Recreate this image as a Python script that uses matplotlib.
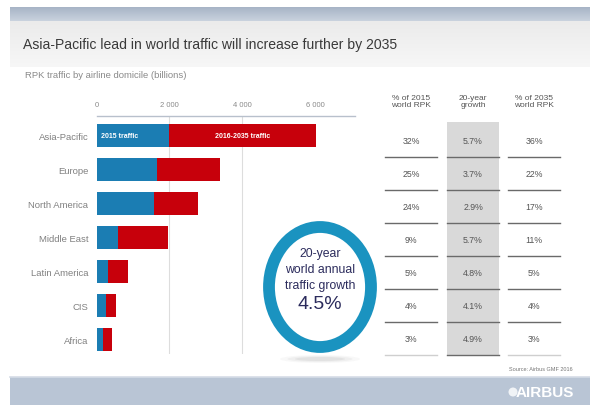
import matplotlib
matplotlib.use("Agg")
import matplotlib.pyplot as plt
import numpy as np
from matplotlib.patches import Rectangle, Ellipse
from matplotlib.colors import LinearSegmentedColormap

plt.rcParams['font.family'] = ['Liberation Sans Narrow', 'Liberation Sans', 'DejaVu Sans']

# ---- data ----
regions = ["Asia-Pacific", "Europe", "North America", "Middle East",
           "Latin America", "CIS", "Africa"]
traffic_2015 = [2000, 1660, 1580, 590, 310, 260, 170]
traffic_2016_2035 = [4040, 1730, 1210, 1370, 550, 270, 250]
ticks = [0, 2000, 4000, 6000]
tick_labels = ["0", "2 000", "4 000", "6 000"]
share_2015 = ["32%", "25%", "24%", "9%", "5%", "4%", "3%"]
growth_20y = ["5.7%", "3.7%", "2.9%", "5.7%", "4.8%", "4.1%", "4.9%"]
share_2035 = ["36%", "22%", "17%", "11%", "5%", "4%", "3%"]
col_headers = ["% of 2015\nworld RPK", "20-year\ngrowth", "% of 2035\nworld RPK"]

BLUE = "#1b7db3"
RED = "#c7000b"
RING = "#1a93c0"

W, H = 590, 406
fig = plt.figure(figsize=(W / 100, H / 100), dpi=100)

# background axes in pixel coordinates
bg = fig.add_axes([0, 0, 1, 1], zorder=0)
bg.set_xlim(0, W)
bg.set_ylim(H, 0)
bg.axis("off")

grad = np.linspace(0, 1, 50).reshape(-1, 1)
cm_top = LinearSegmentedColormap.from_list("t", ["#a7b4c6", "#c9d2de"])
bg.imshow(grad, cmap=cm_top, extent=(10, W, 22, 8), aspect="auto", zorder=0)
cm_title = LinearSegmentedColormap.from_list("g", ["#ebebeb", "#f7f7f7"])
bg.imshow(grad, cmap=cm_title, extent=(10, W, 68, 22), aspect="auto", zorder=0)
bg.add_patch(Rectangle((10, 378), W - 10, H - 378, color="#b9c5d5", lw=0, zorder=0))
bg.plot([10, W], [378, 378], color="#d5dce6", lw=1.2, zorder=1)

bg.text(23, 45, "Asia-Pacific lead in world traffic will increase further by 2035",
        fontsize=10.1, color="#3a3a3a", va="center", ha="left")
bg.text(25, 76, "RPK traffic by airline domicile (billions)",
        fontsize=6.8, color="#8a8a8a", va="center", ha="left")

# table
col_x = [411, 473, 534]
bg.add_patch(Rectangle((447, 123), 52, 233, color="#d9d9d9", lw=0, zorder=1))
row_y = [142, 175, 208, 241, 274, 307, 340]
sep_y = [158, 191, 224, 257, 290, 323, 356]
spans = [(385, 437), (447, 499), (508, 560)]
for j, hdr in enumerate(col_headers):
    bg.text(col_x[j], 102, hdr, fontsize=6, color="#555555", ha="center",
            va="center", linespacing=1.05, zorder=3)
for i in range(len(regions)):
    for j, vals in enumerate([share_2015, growth_20y, share_2035]):
        bg.text(col_x[j], row_y[i], vals[i], fontsize=6.3, color="#555555",
                ha="center", va="center", zorder=3)
    last = i == len(regions) - 1
    for j, (a, b) in enumerate(spans):
        c = "#cfcfcf" if (last and j != 1) else "#6a6a6a"
        bg.plot([a, b], [sep_y[i], sep_y[i]], color=c, lw=1.0, zorder=2)

bg.text(573, 370, "Source: Airbus GMF 2016", fontsize=4, color="#777777",
        ha="right", va="center")
bg.text(574, 393, "AIRBUS", fontsize=11, color="white", ha="right", va="center",
        fontweight="bold")
bg.add_patch(Ellipse((513, 393), 9, 9, color="white", alpha=0.8, lw=0))

# bar axes
x0_px, x1_px = 96.7, 355
y_top, y_bot = 117, 355
ax = fig.add_axes([x0_px / W, 1 - y_bot / H, (x1_px - x0_px) / W, (y_bot - y_top) / H],
                  zorder=1)
ax.patch.set_alpha(0)
ypos = np.arange(len(regions))
ax.barh(ypos, traffic_2015, height=0.68, color=BLUE, zorder=2)
ax.barh(ypos, traffic_2016_2035, left=traffic_2015, height=0.68, color=RED, zorder=2)
ax.set_xlim(0, 7100)
ax.set_ylim(6.44, -0.59)
for t in ticks[1:3]:
    ax.axvline(t, color="#dddddd", lw=0.8, zorder=1)
ax.xaxis.tick_top()
ax.set_xticks(ticks)
ax.set_xticklabels(tick_labels, fontsize=5.5, color="#8a8a8a")
ax.tick_params(axis="x", length=0, pad=6)
ax.set_yticks(ypos)
ax.set_yticklabels(regions, fontsize=6.8, color="#808080")
ax.tick_params(axis="y", length=0, pad=6)
for s in ["right", "bottom", "left"]:
    ax.spines[s].set_visible(False)
ax.spines["top"].set_color("#b8c0cc")
ax.spines["top"].set_linewidth(1.0)
ax.text(120, 0, "2015 traffic", color="white", fontsize=5, fontweight="bold",
        va="center", ha="left", zorder=3)
ax.text(traffic_2015[0] + traffic_2016_2035[0] / 2, 0, "2016-2035 traffic", color="white",
        fontsize=5, fontweight="bold", va="center", ha="center", zorder=3)

# foreground: ring
fg = fig.add_axes([0, 0, 1, 1], zorder=2)
fg.set_xlim(0, W)
fg.set_ylim(H, 0)
fg.axis("off")
fg.patch.set_alpha(0)
cx, cy = 320, 288
for k, a in enumerate([0.05, 0.08, 0.12]):
    fg.add_patch(Ellipse((cx, 360), 80 - 15 * k, 8 - 2 * k, color="#888888", alpha=a, lw=0))
fg.add_patch(Ellipse((cx, cy), 102, 120, facecolor="white", edgecolor=RING, lw=8.5))
TXT = "#2b2b5c"
fg.text(cx, 254, "20-year", fontsize=8.8, color=TXT, ha="center", va="center")
fg.text(cx, 270, "world annual", fontsize=8.8, color=TXT, ha="center", va="center")
fg.text(cx, 286, "traffic growth", fontsize=8.8, color=TXT, ha="center", va="center")
fg.text(cx, 305, "4.5%", fontsize=14, color=TXT, ha="center", va="center")

fig.savefig("out.png", dpi=100, facecolor="white")
